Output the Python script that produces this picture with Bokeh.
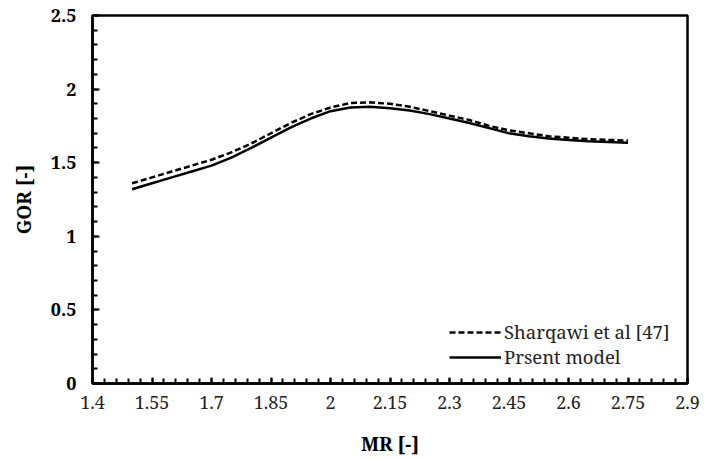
from bokeh.plotting import figure
from bokeh.models import FixedTicker, CustomJSTickFormatter, Range1d, Legend, LegendItem
from bokeh.embed import file_html
from bokeh.resources import INLINE

mr = [1.5, 1.55, 1.6, 1.65, 1.7, 1.75, 1.8, 1.85, 1.9, 1.95, 2.0, 2.05, 2.1,
      2.15, 2.2, 2.25, 2.3, 2.35, 2.4, 2.45, 2.5, 2.55, 2.6, 2.65, 2.7, 2.75]
gor_sharqawi = [1.36, 1.40, 1.44, 1.48, 1.52, 1.57, 1.63, 1.70, 1.77, 1.83, 1.875, 1.905, 1.91,
                1.90, 1.88, 1.85, 1.82, 1.79, 1.75, 1.72, 1.70, 1.68, 1.67, 1.66, 1.655, 1.65]
gor_present = [1.32, 1.36, 1.40, 1.44, 1.48, 1.535, 1.60, 1.67, 1.74, 1.80, 1.85, 1.875, 1.88,
               1.87, 1.855, 1.83, 1.80, 1.77, 1.735, 1.70, 1.68, 1.665, 1.655, 1.645, 1.64, 1.635]

x_ticks = [1.4, 1.55, 1.7, 1.85, 2.0, 2.15, 2.3, 2.45, 2.6, 2.75, 2.9]
x_minor = [round(1.4 + 0.03 * i, 2) for i in range(51)]
y_ticks = [0, 0.5, 1.0, 1.5, 2.0, 2.5]
y_minor = [round(0.1 * i, 1) for i in range(26)]

FONT = "Noto Serif"

p = figure(width=727, height=459, output_backend="svg", toolbar_location=None,
           x_range=Range1d(1.4, 2.9), y_range=Range1d(0, 2.5),
           min_border_left=92, min_border_right=40, min_border_top=15, min_border_bottom=75)
p.xgrid.visible = False
p.ygrid.visible = False
p.outline_line_color = "black"
p.outline_line_width = 2.5
p.background_fill_color = "white"
p.border_fill_color = "white"

fmt = CustomJSTickFormatter(code="return Number(tick.toFixed(2)).toString();")

xa = p.xaxis[0]
xa.ticker = FixedTicker(ticks=x_ticks, minor_ticks=x_minor)
xa.formatter = fmt
xa.axis_line_color = "black"
xa.axis_line_width = 2.5
xa.major_tick_in = 6
xa.major_tick_out = 0
xa.minor_tick_in = 5
xa.minor_tick_out = 0
xa.major_tick_line_color = "black"
xa.minor_tick_line_color = "black"
xa.major_tick_line_width = 2
xa.minor_tick_line_width = 2
xa.major_label_text_font = FONT
xa.major_label_text_font_size = "18px"
xa.major_label_text_color = "#222222"
xa.major_label_standoff = 12
xa.axis_label = "MR [-]"
xa.axis_label_text_font = FONT
xa.axis_label_text_font_size = "19px"
xa.axis_label_text_font_style = "bold"
xa.axis_label_text_color = "black"
xa.axis_label_standoff = 19

ya = p.yaxis[0]
ya.ticker = FixedTicker(ticks=y_ticks, minor_ticks=y_minor)
ya.formatter = fmt
ya.axis_line_color = "black"
ya.axis_line_width = 2.5
ya.major_tick_in = 7
ya.major_tick_out = 0
ya.minor_tick_in = 5
ya.minor_tick_out = 0
ya.major_tick_line_color = "black"
ya.minor_tick_line_color = "black"
ya.major_tick_line_width = 2
ya.minor_tick_line_width = 2
ya.major_label_text_font = FONT
ya.major_label_text_font_size = "18px"
ya.major_label_text_font_style = "bold"
ya.major_label_text_color = "black"
ya.major_label_standoff = 16
ya.axis_label = "GOR [-]"
ya.axis_label_text_font = FONT
ya.axis_label_text_font_size = "19px"
ya.axis_label_text_font_style = "bold"
ya.axis_label_text_color = "black"
ya.axis_label_standoff = 11

r1 = p.line(mr, gor_sharqawi, line_color="black", line_width=2.5, line_dash="6 3")
r2 = p.line(mr, gor_present, line_color="black", line_width=2.5)

legend = Legend(items=[LegendItem(label="Sharqawi et al [47]", renderers=[r1]),
                       LegendItem(label="Prsent model", renderers=[r2])],
                location=(357, 14), border_line_color=None, background_fill_alpha=0,
                padding=0, margin=0, spacing=0, glyph_width=52, glyph_height=18,
                label_height=18, label_standoff=3,
                label_text_font=FONT, label_text_font_size="18.5px", label_text_color="#222222")
p.add_layout(legend)

open("out.html", "w").write(file_html(p, INLINE))
